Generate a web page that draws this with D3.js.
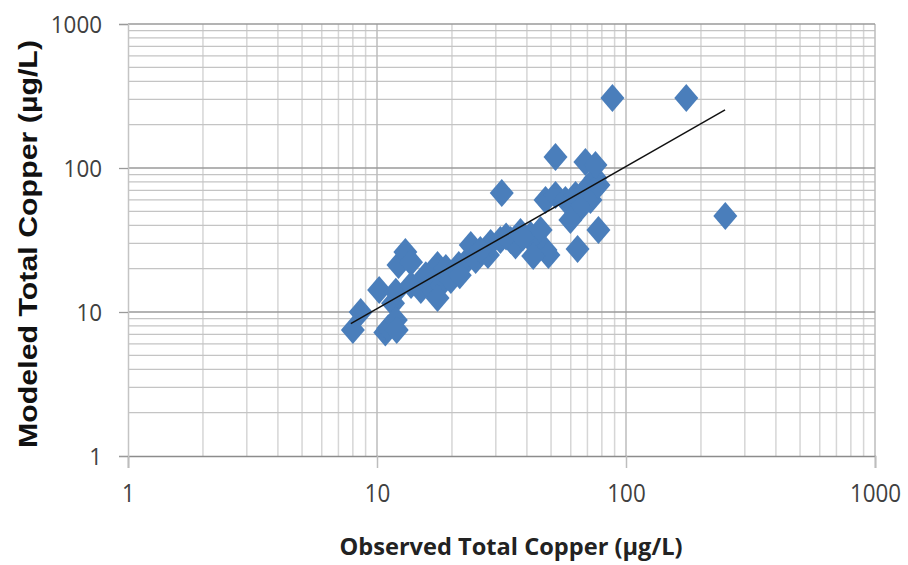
<!DOCTYPE html>
<html>
<head>
<meta charset="utf-8">
<script src="https://cdn.jsdelivr.net/npm/d3@7"></script>
<style>
  html, body { margin: 0; padding: 0; background: #fff; }
  svg { display: block; }
</style>
</head>
<body>
<svg id="chart" width="908" height="565"></svg>
<script>
// Observed vs modeled total copper (µg/L), paired samples
const observed = [
  8.0, 8.6, 10.2, 10.8, 11.1, 11.6, 11.9, 12.2, 13.0, 13.7,
  11.9, 13.7, 15.0, 16.7, 17.5, 18.0, 18.9, 17.5, 19.8, 21.3,
  22.7, 23.8, 24.9, 27.9, 28.6, 31.3, 34.4, 37.7, 41.4, 43.3,
  45.4, 47.5, 48.8, 42.4, 47.5, 52.1, 57.1, 62.7, 68.7, 72.0,
  75.4, 77.5, 65.6, 59.8, 63.9, 77.5, 31.7, 52.1, 68.7, 75.4,
  88.2, 174.6, 250.5, 36.0, 21.5, 15.7, 12.0, 26.0, 33.0, 38.5
];
const modeled = [
  7.5, 10.0, 14.2, 7.2, 7.7, 11.5, 8.8, 21.2, 26.1, 22.2,
  13.8, 15.4, 14.2, 14.2, 21.2, 15.4, 20.2, 12.5, 16.7, 21.2,
  22.2, 29.2, 23.0, 24.9, 30.1, 31.6, 31.6, 35.9, 34.2, 29.2,
  37.1, 27.0, 24.9, 24.5, 59.9, 64.9, 59.9, 64.9, 70.3, 59.9,
  85.3, 76.2, 52.7, 43.5, 27.4, 37.1, 67.0, 119.1, 110.1, 104.9,
  306, 306, 46.4, 29.0, 18.0, 18.0, 7.5, 27.0, 33.5, 33.0
];
// Power trendline end points
const trendX = [7.85, 250];
const trendY = [8.3, 253];

const xTicks = [1, 10, 100, 1000];
const yTicks = [1, 10, 100, 1000];
const xTitle = "Observed Total Copper (µg/L)";
const yTitle = "Modeled Total Copper (µg/L)";

const svg = d3.select("#chart");
const m = { left: 128, right: 875, top: 24, bottom: 456 };

const x = d3.scaleLog().domain([1, 1000]).range([m.left, m.right]);
const y = d3.scaleLog().domain([1, 1000]).range([m.bottom, m.top]);

// every 1..9 step within each decade
const minorVals = [];
for (let d = 1; d < 1000; d *= 10) {
  for (let k = 2; k <= 9; k++) minorVals.push(d * k);
}

const grid = svg.append("g");
// vertical minor gridlines
grid.selectAll(".vmin").data(minorVals).join("line")
  .attr("x1", d => x(d)).attr("x2", d => x(d))
  .attr("y1", m.top).attr("y2", m.bottom)
  .attr("stroke", "#d6d6d6").attr("stroke-width", 1.5);
// horizontal minor gridlines
grid.selectAll(".hmin").data(minorVals).join("line")
  .attr("x1", m.left).attr("x2", m.right)
  .attr("y1", d => y(d)).attr("y2", d => y(d))
  .attr("stroke", "#c4c4c4").attr("stroke-width", 1.3);
// vertical major gridlines
grid.selectAll(".vmaj").data(xTicks.slice(1)).join("line")
  .attr("x1", d => x(d)).attr("x2", d => x(d))
  .attr("y1", m.top).attr("y2", m.bottom)
  .attr("stroke", "#bdbdbd").attr("stroke-width", 1.5);
// horizontal major gridlines
grid.selectAll(".hmaj").data(yTicks.slice(1)).join("line")
  .attr("x1", m.left).attr("x2", m.right)
  .attr("y1", d => y(d)).attr("y2", d => y(d))
  .attr("stroke", "#9a9a9a").attr("stroke-width", 1.3);

// axes
const xAxis = d3.axisBottom(x).tickValues(xTicks).tickFormat(d3.format("d"))
  .tickSize(12).tickPadding(15);
const yAxis = d3.axisLeft(y).tickValues(yTicks).tickFormat(d3.format("d"))
  .tickSize(9).tickPadding(17);

const gx = svg.append("g").attr("transform", `translate(0,${m.bottom})`).call(xAxis);
const gy = svg.append("g").attr("transform", `translate(${m.left},0)`).call(yAxis);

gx.select(".domain").attr("stroke", "#8c8c8c").attr("stroke-width", 1.5);
gy.select(".domain").attr("stroke", "#c4c4c4").attr("stroke-width", 1.5);
gx.selectAll(".tick line").attr("stroke", "#bdbdbd").attr("stroke-width", 1.5);
gy.selectAll(".tick line").attr("stroke", "#9a9a9a").attr("stroke-width", 1.3);

// condensed-looking tick labels
gx.selectAll(".tick text")
  .attr("font-family", "'Open Sans', sans-serif")
  .attr("font-size", 26).attr("fill", "#404040").attr("dy", "0.72em")
  .attr("textLength", d => String(d).length * 12.8)
  .attr("lengthAdjust", "spacingAndGlyphs");
gy.selectAll(".tick text")
  .attr("font-family", "'Open Sans', sans-serif")
  .attr("font-size", 24).attr("fill", "#404040").attr("dy", "0.35em")
  .attr("textLength", d => String(d).length * 12.8)
  .attr("lengthAdjust", "spacingAndGlyphs");

// diamond markers
const hw = 12, hh = 14;
const diamond = `M0,${-hh}L${hw},0L0,${hh}L${-hw},0Z`;
svg.append("g").selectAll("path").data(observed.map((o, i) => [o, modeled[i]]))
  .join("path")
  .attr("d", diamond)
  .attr("transform", d => `translate(${x(d[0])},${y(d[1])})`)
  .attr("fill", "#4a7ebb");

// trendline
svg.append("line")
  .attr("x1", x(trendX[0])).attr("y1", y(trendY[0]))
  .attr("x2", x(trendX[1])).attr("y2", y(trendY[1]))
  .attr("stroke", "#111").attr("stroke-width", 1.5);

// axis titles
svg.append("text")
  .attr("x", 511).attr("y", 555)
  .attr("text-anchor", "middle")
  .attr("font-family", "'Open Sans', sans-serif")
  .attr("font-weight", "bold").attr("font-size", 24).attr("fill", "#222")
  .attr("textLength", 343).attr("lengthAdjust", "spacingAndGlyphs")
  .text(xTitle);

svg.append("text")
  .attr("transform", "translate(37,244) rotate(-90)")
  .attr("text-anchor", "middle")
  .attr("font-family", "'Liberation Sans', Arial, sans-serif")
  .attr("font-weight", "bold").attr("font-size", 26).attr("fill", "#111")
  .attr("textLength", 408).attr("lengthAdjust", "spacingAndGlyphs")
  .text(yTitle);
</script>
</body>
</html>
